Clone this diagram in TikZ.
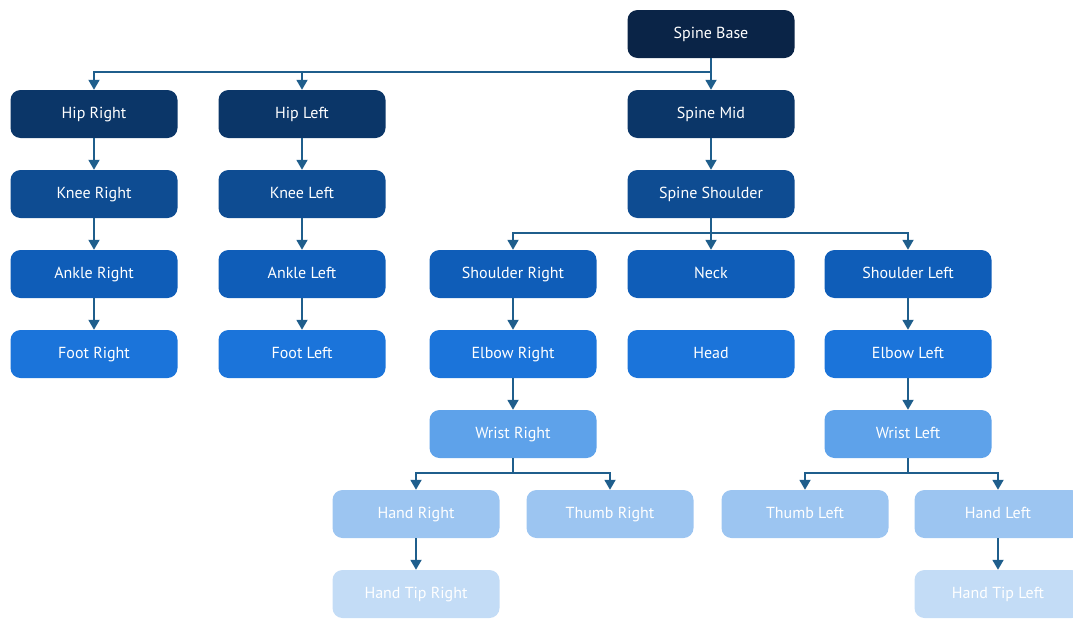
\documentclass[tikz,border=0pt]{standalone}
\usepackage{fontspec}
\setmainfont{PT Sans}
\usetikzlibrary{arrows.meta}
\definecolor{c0}{HTML}{0A2447}
\definecolor{c1}{HTML}{0B3668}
\definecolor{c2}{HTML}{0E4C92}
\definecolor{c3}{HTML}{0F5DB8}
\definecolor{c4}{HTML}{1B74DA}
\definecolor{c5}{HTML}{5EA2EA}
\definecolor{c6}{HTML}{9CC5F1}
\definecolor{c7}{HTML}{C3DCF6}
\definecolor{linec}{HTML}{1F5E8C}
\begin{document}
\begin{tikzpicture}[x=1pt,y=-1pt,
  box/.style={rounded corners=10pt, minimum width=167pt, minimum height=48pt, inner sep=0pt, text=white, text height=11.5pt, text depth=3.5pt, font=\fontsize{16}{19}\selectfont},
  conn/.style={draw=linec, line width=1.8pt, -{Triangle[width=11pt,length=10pt]}}]
\useasboundingbox (0,0) rectangle (1073,621);
% row 1
\node[box, fill=c0] (sb) at (711,34) {Spine Base};
% row 2
\node[box, fill=c1] (hr) at (94,114) {Hip Right};
\node[box, fill=c1] (hl) at (302,114) {Hip Left};
\node[box, fill=c1] (sm) at (711,114) {Spine Mid};
% row 3
\node[box, fill=c2] (kr) at (94,194) {Knee Right};
\node[box, fill=c2] (kl) at (302,194) {Knee Left};
\node[box, fill=c2] (ss) at (711,194) {Spine Shoulder};
% row 4
\node[box, fill=c3] (ar) at (94,274) {Ankle Right};
\node[box, fill=c3] (al) at (302,274) {Ankle Left};
\node[box, fill=c3] (shr) at (513,274) {Shoulder Right};
\node[box, fill=c3] (nk) at (711,274) {Neck};
\node[box, fill=c3] (shl) at (908,274) {Shoulder Left};
% row 5
\node[box, fill=c4] (fr) at (94,354) {Foot Right};
\node[box, fill=c4] (fl) at (302,354) {Foot Left};
\node[box, fill=c4] (er) at (513,354) {Elbow Right};
\node[box, fill=c4] (hd) at (711,354) {Head};
\node[box, fill=c4] (el) at (908,354) {Elbow Left};
% row 6
\node[box, fill=c5] (wr) at (513,434) {Wrist Right};
\node[box, fill=c5] (wl) at (908,434) {Wrist Left};
% row 7
\node[box, fill=c6] (hnr) at (416,514) {Hand Right};
\node[box, fill=c6] (tr) at (610,514) {Thumb Right};
\node[box, fill=c6] (tl) at (805,514) {Thumb Left};
\node[box, fill=c6] (hnl) at (998,514) {Hand Left};
% row 8
\node[box, fill=c7] (htr) at (416,594) {Hand Tip Right};
\node[box, fill=c7] (htl) at (998,594) {Hand Tip Left};
% connectors
\foreach \c in {hr,hl,sm} \draw[conn] (sb.south) -- ++(0,14) -| (\c.north);
\foreach \c in {shr,nk,shl} \draw[conn] (ss.south) -- ++(0,15) -| (\c.north);
\foreach \c in {hnr,tr} \draw[conn] (wr.south) -- ++(0,15) -| (\c.north);
\foreach \c in {tl,hnl} \draw[conn] (wl.south) -- ++(0,15) -| (\c.north);
\draw[conn] (hr) -- (kr);
\draw[conn] (kr) -- (ar);
\draw[conn] (ar) -- (fr);
\draw[conn] (hl) -- (kl);
\draw[conn] (kl) -- (al);
\draw[conn] (al) -- (fl);
\draw[conn] (sm) -- (ss);
\draw[conn] (shr) -- (er);
\draw[conn] (er) -- (wr);
\draw[conn] (shl) -- (el);
\draw[conn] (el) -- (wl);
\draw[conn] (hnr) -- (htr);
\draw[conn] (hnl) -- (htl);
\end{tikzpicture}
\end{document}
